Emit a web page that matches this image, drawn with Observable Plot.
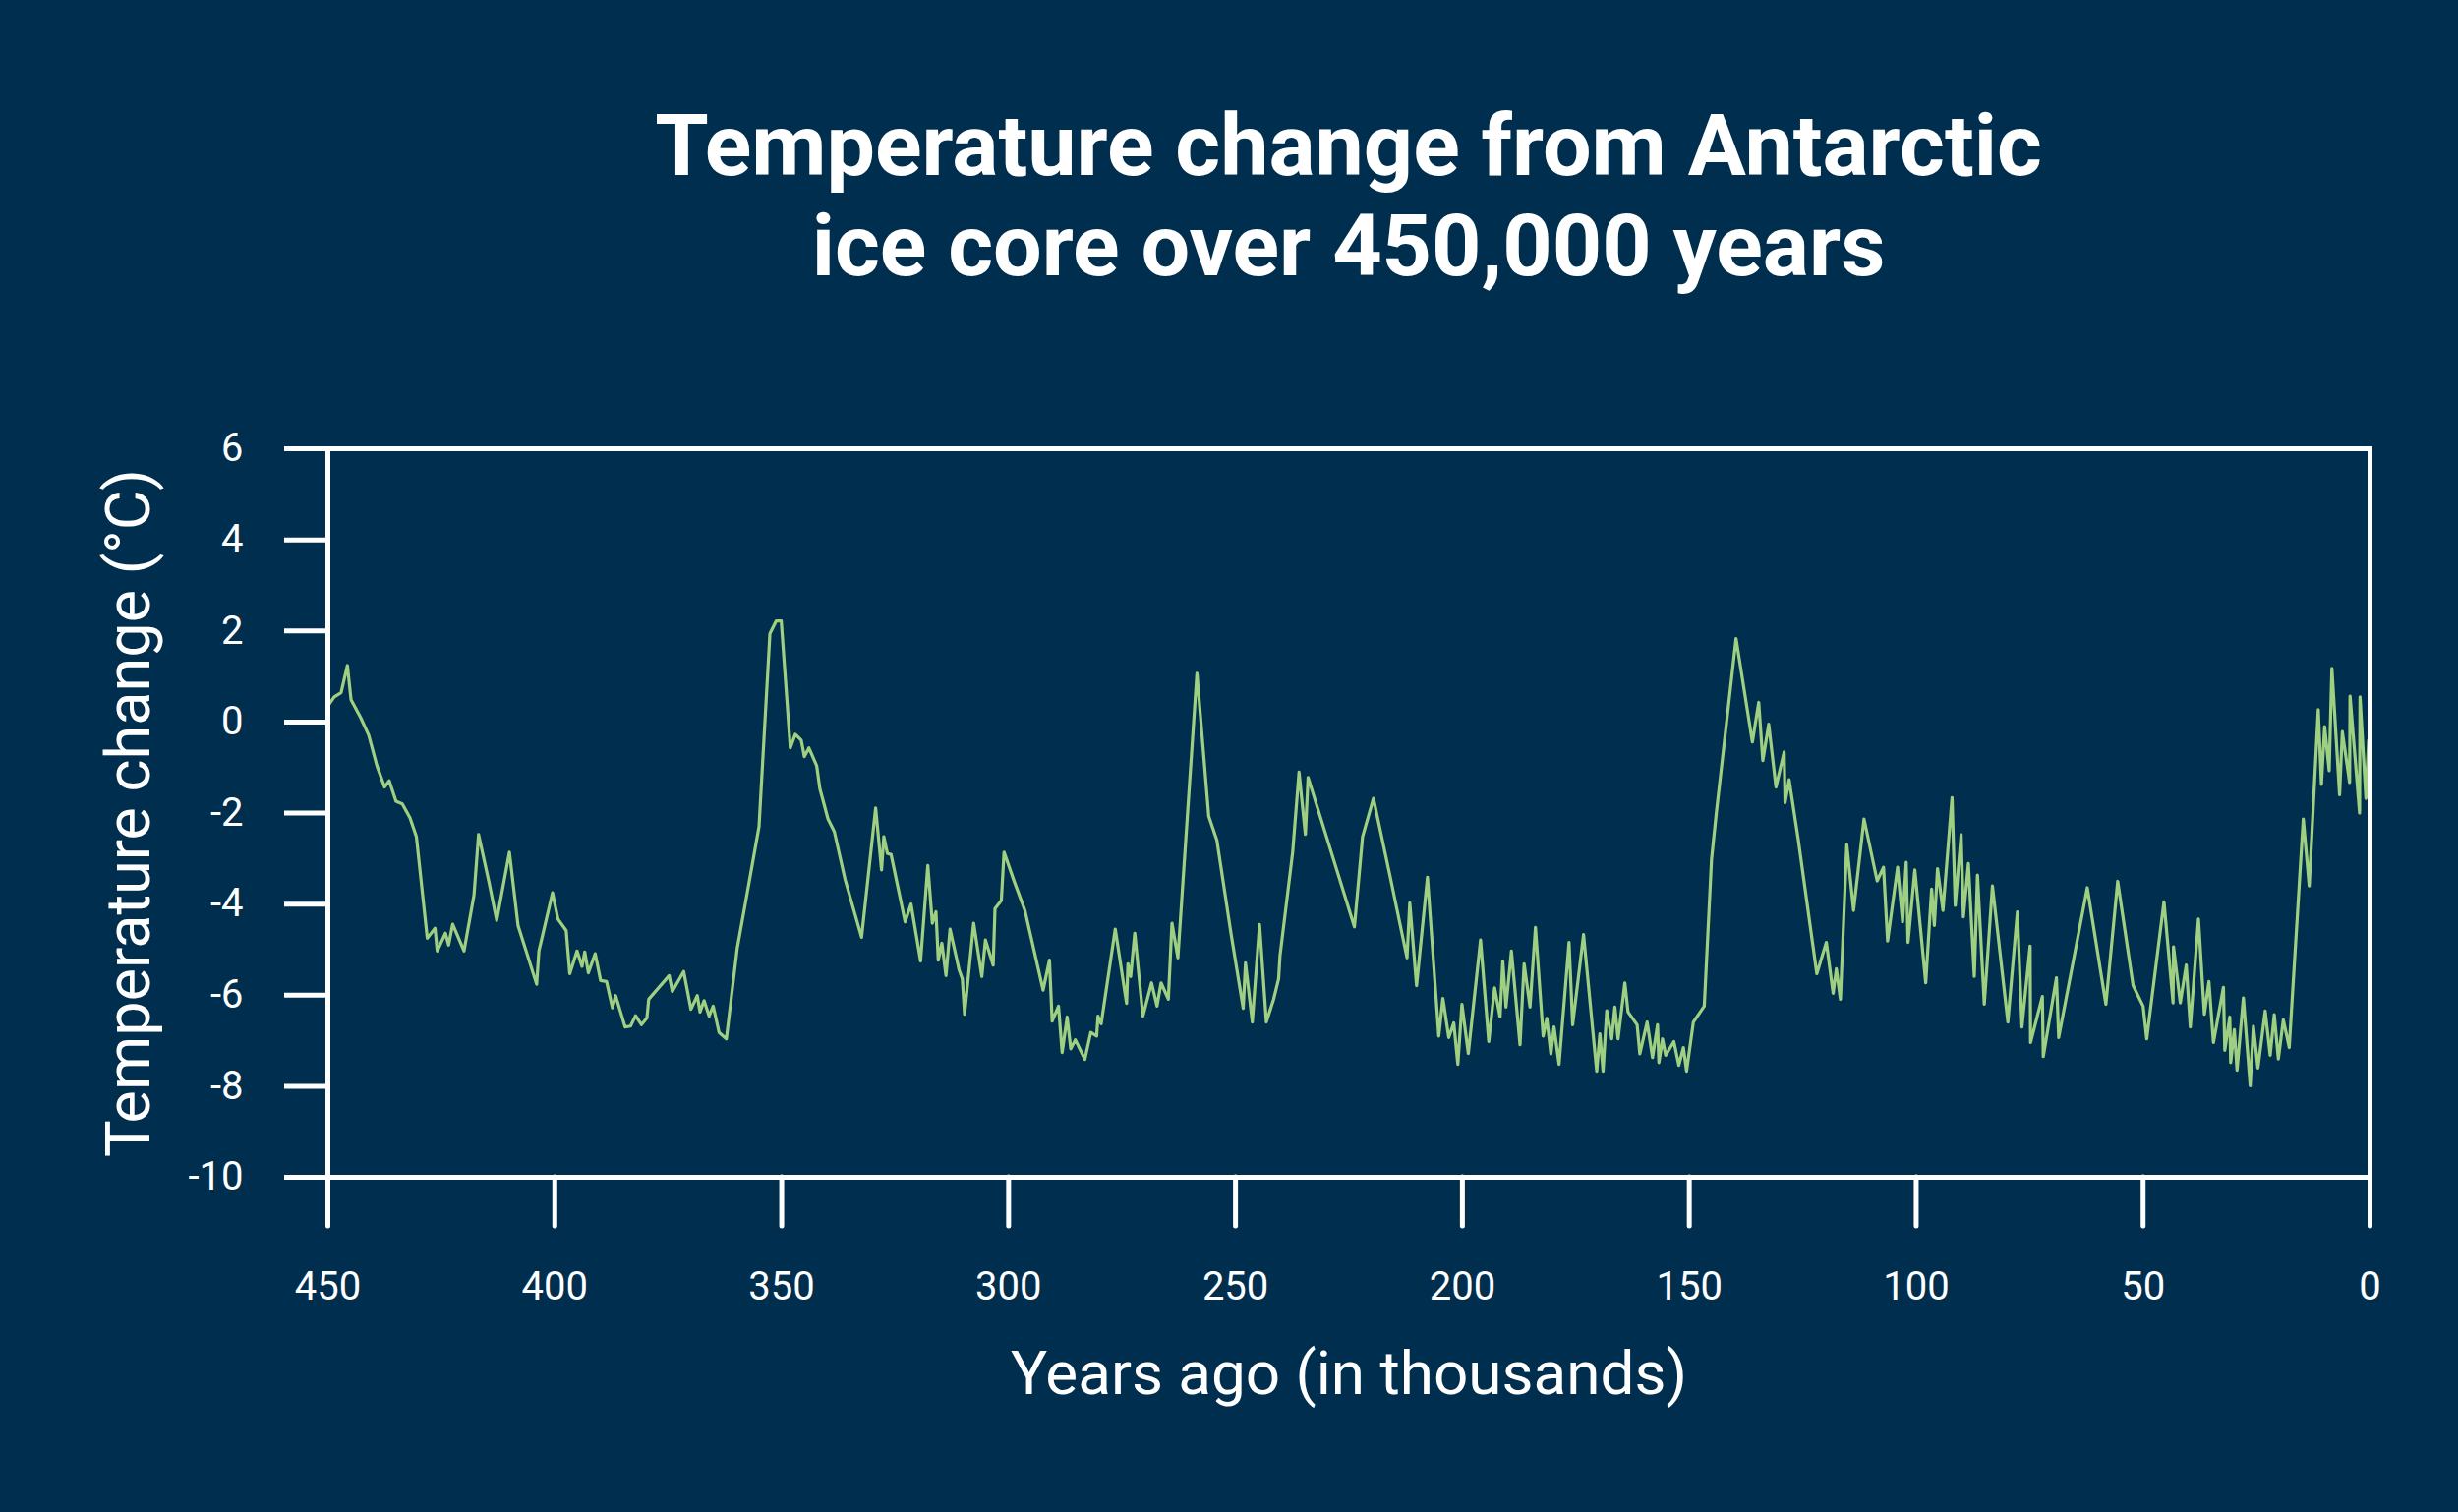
<!DOCTYPE html>
<html>
<head>
<meta charset="utf-8">
<script src="https://cdn.jsdelivr.net/npm/d3@7"></script>
<script src="https://cdn.jsdelivr.net/npm/@observablehq/plot@0.6"></script>
<style>
  html, body { margin: 0; padding: 0; background: #002e4e; }
  #wrap { width: 2500px; height: 1538px; background: #002e4e; overflow: hidden; }
  #title {
    box-sizing: border-box; height: 320px; padding: 97px 90px 0 333px;
    font-family: "Roboto", "Inter", sans-serif; font-weight: 700; font-size: 88px;
    line-height: 102px; color: #ffffff; text-align: center;
  }
</style>
</head>
<body>
<div id="wrap">
  <div id="title">Temperature change from Antarctic<br>ice core over 450,000 years</div>
  <div id="chart"></div>
</div>
<script>
const yearsAgo = [
  450, 448.6, 447.1, 445.7, 444.9, 442.8, 441.0, 439.2, 437.5, 436.5, 435.0, 433.6, 431.9, 430.5,
  428.1, 426.4, 425.9, 424.1, 423.4, 422.5, 420.0, 417.8, 416.8, 414.5, 412.8, 410.0, 408.1, 404.0,
  403.5, 400.5, 399.3, 397.5, 396.7, 395.1, 394.0, 393.4, 392.6, 391.1, 389.9, 388.6, 387.3, 386.6,
  384.5, 383.3, 382.2, 380.9, 379.7, 379.3, 374.8, 374.1, 371.6, 370.0, 368.6, 368.0, 367.1, 366.0,
  365.1, 363.8, 362.2, 359.8, 357.9, 355.0, 352.6, 351.2, 350.1, 348.1, 347.0, 345.7, 345.0, 344.0,
  342.3, 341.6, 339.8, 338.4, 336.0, 332.4, 329.3, 328.0, 327.5, 326.7, 325.9, 322.8, 321.5, 319.4,
  317.8, 316.8, 316.0, 315.5, 314.7, 313.8, 312.9, 310.9, 310.2, 309.7, 307.7, 305.9, 305.1, 303.4,
  303.0, 301.6, 301.0, 298.7, 296.4, 292.4, 291.0, 290.4, 289.0, 288.2, 287.1, 286.3, 285.3, 283.2,
  281.9, 280.6, 280.3, 279.6, 276.5, 274.0, 273.7, 273.1, 272.2, 270.4, 268.5, 267.3, 266.4, 264.8,
  264.0, 262.7, 261.1, 258.5, 255.9, 254.1, 251.0, 248.3, 247.8, 246.3, 244.7, 243.2, 241.6, 240.5,
  240.2, 237.4, 236.0, 234.6, 234.0, 223.8, 222.0, 219.6, 216.0, 212.2, 211.6, 210.1, 207.7, 205.2,
  204.3, 203.0, 201.9, 201.0, 200.1, 198.7, 196.0, 194.2, 192.9, 191.7, 191.1, 190.4, 189.2, 187.3,
  186.4, 185.1, 183.9, 182.2, 181.4, 180.5, 179.8, 178.7, 176.5, 175.7, 173.3, 170.4, 169.7, 169.0,
  168.2, 167.1, 166.4, 165.7, 164.2, 163.5, 161.5, 160.9, 159.3, 158.1, 157.0, 156.7, 155.9, 155.2,
  153.4, 152.3, 151.3, 150.6, 149.1, 146.7, 145.1, 144.0, 139.7, 136.1, 134.7, 133.8, 132.5, 130.9,
  129.1, 128.9, 128.0, 126.0, 121.9, 119.8, 118.3, 117.6, 116.7, 115.3, 113.8, 111.5, 108.6, 107.2,
  106.3, 104.1, 103.0, 102.2, 101.8, 100.3, 97.9, 96.6, 96.0, 95.3, 94.1, 92.1, 91.4, 90.1,
  89.6, 88.5, 87.2, 86.5, 85.0, 83.2, 79.8, 77.7, 76.7, 74.9, 74.8, 72.2, 72.0, 69.1,
  68.6, 62.3, 58.2, 55.6, 52.2, 50.0, 49.2, 45.4, 43.4, 43.3, 41.8, 40.5, 39.6, 37.8,
  36.5, 35.5, 34.5, 32.3, 32.0, 30.9, 30.7, 29.9, 29.3, 27.9, 26.4, 25.7, 24.7, 23.1,
  22.0, 21.1, 20.2, 19.1, 17.8, 14.7, 13.4, 11.4, 10.7, 10.0, 9.0, 8.4, 6.7, 6.1,
  4.5, 4.4, 2.3, 2.2, 0.9, 0.3
];
const tempChange = [
  0.35, 0.55, 0.64, 1.24, 0.49, 0.10, -0.29, -0.96, -1.43, -1.29, -1.74, -1.80, -2.11, -2.52,
  -4.75, -4.53, -5.03, -4.64, -4.90, -4.44, -5.03, -3.80, -2.47, -3.52, -4.36, -2.86, -4.47, -5.76,
  -5.03, -3.75, -4.33, -4.58, -5.53, -5.03, -5.37, -5.05, -5.51, -5.09, -5.68, -5.70, -6.28, -6.01,
  -6.70, -6.68, -6.45, -6.65, -6.50, -6.09, -5.57, -5.92, -5.48, -6.31, -6.01, -6.37, -6.12, -6.46,
  -6.24, -6.82, -6.96, -4.97, -3.92, -2.30, 1.94, 2.22, 2.22, -0.57, -0.27, -0.40, -0.76, -0.57,
  -0.96, -1.46, -2.13, -2.41, -3.47, -4.73, -1.89, -3.25, -2.52, -2.89, -2.91, -4.39, -4.00, -5.25,
  -3.15, -4.42, -4.17, -5.23, -4.86, -5.57, -4.55, -5.45, -5.64, -6.42, -4.42, -5.59, -4.79, -5.34,
  -4.10, -3.92, -2.86, -3.52, -4.14, -5.89, -5.23, -6.57, -6.24, -7.26, -6.48, -7.18, -6.98, -7.41,
  -6.82, -6.90, -6.46, -6.63, -4.55, -6.18, -5.31, -5.59, -4.64, -6.46, -5.73, -6.24, -5.73, -6.09,
  -4.42, -5.18, -2.80, 1.07, -2.07, -2.60, -4.64, -6.29, -5.29, -6.59, -4.45, -6.59, -6.09, -5.64,
  -5.14, -2.86, -1.10, -2.47, -1.22, -4.50, -2.52, -1.68, -3.36, -5.18, -3.97, -5.79, -3.41, -6.90,
  -6.07, -6.93, -6.61, -7.52, -6.20, -7.28, -4.79, -7.02, -5.84, -6.48, -5.25, -6.26, -5.03, -7.09,
  -5.31, -6.26, -4.51, -6.90, -6.51, -7.29, -6.70, -7.52, -4.84, -6.65, -4.67, -7.67, -6.85, -7.67,
  -6.34, -6.96, -6.26, -6.96, -5.73, -6.37, -6.65, -7.29, -6.59, -7.37, -6.65, -7.48, -6.96, -7.32,
  -7.02, -7.54, -7.15, -7.67, -6.59, -6.24, -3.02, -1.96, 1.83, -0.44, 0.43, -0.85, -0.05, -1.43,
  -0.66, -1.77, -1.27, -2.58, -5.53, -4.84, -5.96, -5.42, -6.09, -2.69, -4.14, -2.13, -3.49, -3.19,
  -4.81, -3.19, -4.39, -3.08, -4.84, -3.25, -5.73, -3.67, -4.47, -3.22, -4.14, -1.66, -4.03, -2.47,
  -4.28, -3.11, -5.59, -3.36, -6.20, -3.60, -6.59, -4.17, -6.70, -4.92, -7.04, -6.03, -7.35, -5.62,
  -6.93, -3.64, -6.20, -3.50, -5.79, -6.24, -6.96, -3.95, -6.17, -4.94, -6.17, -5.34, -6.70, -4.33,
  -6.42, -5.70, -7.04, -5.83, -7.21, -6.48, -7.48, -6.76, -7.65, -6.06, -7.99, -6.68, -7.60, -6.35,
  -7.32, -6.43, -7.40, -6.54, -7.15, -2.13, -3.60, 0.27, -1.37, -0.10, -1.07, 1.18, -1.60, -0.21,
  -1.33, 0.57, -2.00, 0.55, -1.68, -0.40
];
const xTicks = [450, 400, 350, 300, 250, 200, 150, 100, 50, 0];
const yTicks = [-10, -8, -6, -4, -2, 0, 2, 4, 6];
const xLabel = "Years ago (in thousands)";
const yLabel = "Temperature change (°C)";

const data = yearsAgo.map((t, i) => ({t, v: tempChange[i]}));

const chart = Plot.plot({
  width: 2500,
  height: 1218,
  marginTop: 136,
  marginBottom: 341,
  marginLeft: 333,
  marginRight: 90,
  style: {background: "transparent", color: "white", fontFamily: "Roboto, sans-serif", overflow: "visible"},
  x: {domain: [450, 0]},
  y: {domain: [-10, 6]},
  marks: [
    Plot.axisX({ticks: xTicks, tickSize: 50, tickPadding: 46, strokeWidth: 5, stroke: "white", fill: "white",
      fontSize: 40, label: null, strokeLinecap: "round"}),
    Plot.axisY({ticks: yTicks, tickSize: 44, tickPadding: 42, strokeWidth: 5, stroke: "white", fill: "white",
      fontSize: 40, label: null, tickFormat: d => String(d)}),
    Plot.line(data, {x: "t", y: "v", stroke: "#9fcf80", strokeWidth: 3.2, strokeLinejoin: "round"}),
    Plot.frame({stroke: "white", strokeWidth: 5}),
    Plot.text([xLabel], {frameAnchor: "bottom", dy: 201, text: d => d, fontSize: 62, fill: "white",
      textAnchor: "middle", lineAnchor: "middle"}),
    Plot.text([yLabel], {frameAnchor: "left", dx: -202, rotate: -90, text: d => d, fontSize: 63, fill: "white",
      textAnchor: "middle", lineAnchor: "middle"})
  ]
});
document.getElementById("chart").appendChild(chart);
</script>
</body>
</html>
